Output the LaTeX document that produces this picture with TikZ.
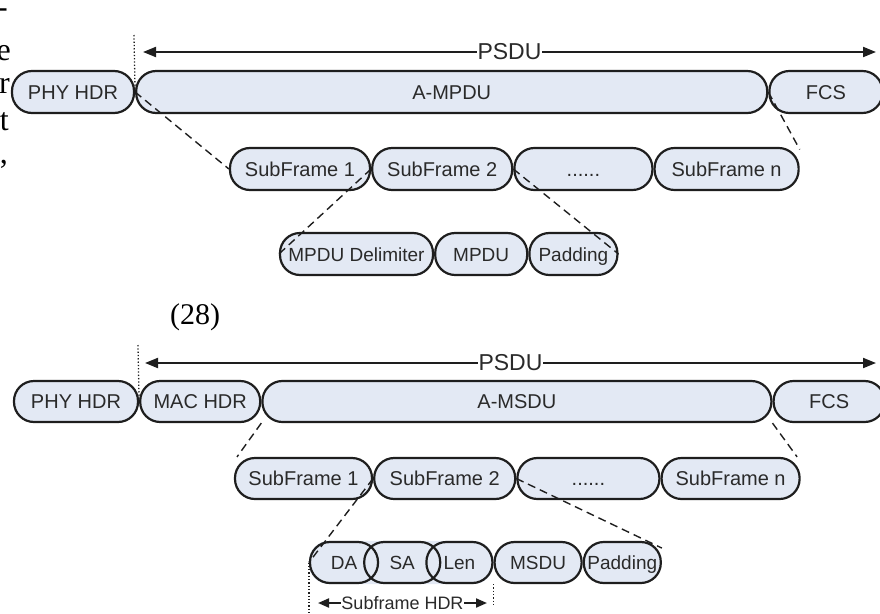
\documentclass[tikz,border=0pt]{standalone}
\usepackage{fontspec}
\setmainfont{Liberation Sans}
\newfontfamily\paperfont{Liberation Serif}
\usepackage{tikz}
\usetikzlibrary{arrows.meta,positioning,calc,backgrounds}
\definecolor{fieldblue}{HTML}{E3E9F4}
\definecolor{frameline}{HTML}{1E1E1E}
\definecolor{labelgray}{HTML}{2A2A2A}

\begin{document}
\begin{tikzpicture}[
  x=1pt, y=-1pt,
  font=\fontsize{20}{23}\selectfont,
  fld/.style={draw=frameline,fill=fieldblue,line width=2.2pt,text=labelgray,
              rounded corners=20pt,inner sep=0pt,minimum height=42pt,
              text height=14pt,text depth=0pt},
  hdrfld/.style={draw=frameline,line width=2.2pt,text=labelgray,
              rounded corners=20pt,inner sep=0pt,minimum height=41pt,
              text height=14pt,text depth=0pt},
  small/.style={font=\fontsize{19}{22}\selectfont},
  psduarr/.style={{Triangle[length=13pt,width=10pt]}-{Triangle[length=13pt,width=10pt]},
              line width=2pt,frameline},
  hdrarr/.style={{Triangle[length=11pt,width=9pt]}-{Triangle[length=11pt,width=9pt]},
              line width=2pt,frameline},
  brk/.style={dotted,line width=1.3pt,frameline},
  zoomln/.style={dash pattern=on 8pt off 5pt,line width=1.4pt,frameline},
  spanlbl/.style={fill=white,inner sep=0.5pt,text=labelgray,font=\fontsize{23}{25}\selectfont},
  papertxt/.style={anchor=base east,inner sep=0pt,font=\paperfont\fontsize{32}{34}\selectfont}
]
\useasboundingbox (0,0) rectangle (880,613);

% cut-off paper text on the left
\node[papertxt] (p1) at (8,17)   {-};
\node[papertxt] (p2) at (11,60)  {e};
\node[papertxt] (p3) at (10,93)  {r};
\node[papertxt] (p4) at (9,130)  {t};
\node[papertxt] (p5) at (8,163)  {,};

% TOP: A-MPDU
\node[fld,minimum width=122pt] (phy) at (73,92) {PHY HDR};
\node[fld,minimum width=631pt,right=0pt of phy]   (ampdu) {A-MPDU};
\node[fld,minimum width=113pt,right=0pt of ampdu] (fcs)   {FCS};

\node[fld,minimum width=140pt] (sf1) at (300,169) {SubFrame 1};
\node[fld,minimum width=140pt,right=0pt of sf1] (sf2) {SubFrame 2};
\node[fld,minimum width=138pt,right=0pt of sf2] (sfd) {......};
\node[fld,minimum width=144pt,right=0pt of sfd] (sfn) {SubFrame n};

\node[fld,small,minimum width=153pt] (delim) at (356.5,254) {MPDU Delimiter};
\node[fld,small,minimum width=92pt,right=0pt of delim] (mpdu) {MPDU};
\node[fld,small,minimum width=88pt,right=0pt of mpdu]  (pad)  {Padding};

\coordinate (psduL) at (143,52);
\coordinate (psduR) at (876,52);
\coordinate (brkT)  at (134,35);
\draw[psduarr] (psduL) -- (psduR) node[spanlbl,pos=0.5] (psdu) {PSDU};
\draw[brk] (brkT) -- (phy.east);

\draw[zoomln] (phy.east) -- (sf1.west);
\draw[zoomln] (fcs.west) -- (sfn.15);
\draw[zoomln] (sf1.east) -- (delim.west);
\draw[zoomln] (sf2.east) -- (pad.east);

\node[font=\paperfont\fontsize{30}{32}\selectfont] (eqno) at (195,317) {(28)};

% BOTTOM: A-MSDU
\node[fld,minimum width=124pt,minimum height=41pt] (phy2) at (76,401.5) {PHY HDR};
\node[fld,minimum width=120pt,minimum height=41pt,right=0pt of phy2]  (mac)   {MAC HDR};
\node[fld,minimum width=509pt,minimum height=41pt,right=0pt of mac]   (amsdu) {A-MSDU};
\node[fld,minimum width=111pt,minimum height=41pt,right=0pt of amsdu] (fcs2)  {FCS};

\node[fld,minimum width=137pt,minimum height=41pt] (sf1b) at (303.5,478.5) {SubFrame 1};
\node[fld,minimum width=141pt,minimum height=41pt,right=0pt of sf1b] (sf2b) {SubFrame 2};
\node[fld,minimum width=142pt,minimum height=41pt,right=0pt of sf2b] (sfdb) {......};
\node[fld,minimum width=138pt,minimum height=41pt,right=0pt of sfdb] (sfnb) {SubFrame n};

\node[hdrfld,small,minimum width=68pt] (da) at (344,562.5) {DA};
\node[hdrfld,small,minimum width=76pt,right=-16pt of da] (sa)  {SA};
\node[hdrfld,small,minimum width=66pt,right=-16pt of sa] (len) {Len};
\node[fld,small,minimum width=87pt,minimum height=41pt,right=0pt of len]  (msdu) {MSDU};
\node[fld,small,minimum width=77pt,minimum height=41pt,right=0pt of msdu] (pad2) {Padding};
\begin{scope}[on background layer]
  \fill[fieldblue,rounded corners=20pt] (da.south west) rectangle (len.north east);
\end{scope}

\coordinate (psduL2) at (145,363);
\coordinate (psduR2) at (876,363);
\coordinate (brkT2)  at (138,345);
\draw[psduarr] (psduL2) -- (psduR2) node[spanlbl,pos=0.5] (psdu2) {PSDU};
\draw[brk] (brkT2) -- (phy2.east);

\draw[zoomln] (mac.south east) -- (sf1b.162);
\draw[zoomln] (amsdu.south east) -- (sfnb.18);
\draw[zoomln] (sf1b.east) -- (da.west);
\draw[zoomln] (sf2b.east) -- (pad2.20);

% Subframe HDR span
\coordinate (hdrL) at (318,603);
\coordinate (hdrR) at (487,603);
\draw[brk] (da.west) -- ++(0,51);
\draw[brk] (len.south east) -- ++(0,22);
\draw[hdrarr] (hdrL) -- (hdrR)
  node[pos=0.5,fill=white,inner sep=0.5pt,text=labelgray,font=\fontsize{18}{20}\selectfont] (hdrlbl) {Subframe HDR};
\end{tikzpicture}
\end{document}
